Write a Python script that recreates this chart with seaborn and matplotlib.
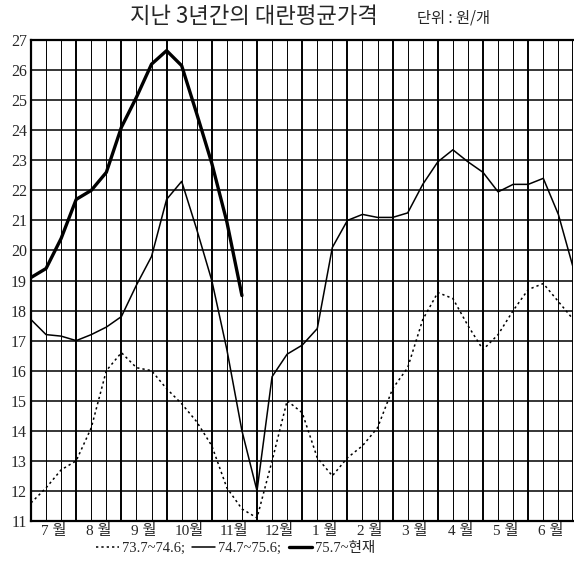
import matplotlib
matplotlib.use("Agg")
import matplotlib.pyplot as plt
import seaborn as sns

# dekads (10-day periods) from July to June, 3 per month
DEKADS = list(range(37))
MONTH_LABELS = ["7 월", "8 월", "9 월", "10월", "11월", "12월",
                "1 월", "2 월", "3 월", "4 월", "5 월", "6 월"]
Y_TICKS = list(range(11, 28))

PRICE_7374 = [11.6, 12.1, 12.7, 13.0, 14.1, 16.0, 16.6, 16.1, 16.0, 15.4,
              14.9, 14.3, 13.5, 12.1, 11.4, 11.1, 13.0, 15.0, 14.6, 13.1,
              12.5, 13.1, 13.5, 14.1, 15.4, 16.1, 17.7, 18.6, 18.4, 17.5,
              16.7, 17.2, 18.0, 18.7, 18.9, 18.3, 17.7]
PRICE_7475 = [17.7, 17.2, 17.15, 17.0, 17.2, 17.45, 17.8, 18.85, 19.8, 21.7,
              22.3, 20.7, 19.0, 16.7, 14.0, 12.0, 15.8, 16.55, 16.85, 17.4,
              20.1, 21.0, 21.2, 21.1, 21.1, 21.25, 22.2, 22.95, 23.35, 22.95,
              22.6, 21.95, 22.2, 22.2, 22.4, 21.2, 19.4]
PRICE_7576 = [19.1, 19.4, 20.4, 21.7, 22.0, 22.6, 24.1, 25.1, 26.2, 26.65,
              26.15, 24.55, 22.9, 20.95, 18.5]


def main() -> None:
    sns.set_theme(style="white")
    plt.rcParams["font.family"] = ["Liberation Serif", "Noto Sans CJK KR"]

    fig, ax = plt.subplots(figsize=(5.74, 5.65), dpi=100)
    fig.subplots_adjust(left=0.054, right=0.999, bottom=0.078, top=0.929)

    sns.lineplot(x=DEKADS, y=PRICE_7374, ax=ax, color="black", lw=1.1,
                 linestyle=(0, (1.5, 2.0)), label="73.7~74.6;")
    sns.lineplot(x=DEKADS, y=PRICE_7475, ax=ax, color="black", lw=1.1,
                 label="74.7~75.6;")
    sns.lineplot(x=DEKADS[:len(PRICE_7576)], y=PRICE_7576, ax=ax,
                 color="black", lw=2.4, label="75.7~현재")

    ax.set_xlim(0, 36)
    ax.set_ylim(11, 27)
    ax.set_xticks(DEKADS)
    ax.set_xticklabels([])
    ax.set_xticks([1.5 + 3 * k for k in range(12)], minor=True)
    ax.set_xticklabels(MONTH_LABELS, minor=True, fontsize=11)
    ax.set_yticks(Y_TICKS)
    ax.set_yticklabels([str(v) for v in Y_TICKS], fontsize=11.5)
    ax.tick_params(axis="x", which="both", length=0, pad=2)
    ax.tick_params(axis="y", length=0, pad=3)
    ax.set_axisbelow(True)
    ax.grid(True, which="major", axis="x", color="black", lw=0.7)
    ax.grid(True, which="major", axis="y", color="black", lw=1.1)
    for i, gl in enumerate(ax.xaxis.get_gridlines()):
        if i % 3 == 0:
            gl.set_linewidth(1.4)

    for side in ["left", "top", "bottom"]:
        ax.spines[side].set_color("black")
        ax.spines[side].set_linewidth(1.6)
    ax.spines["right"].set_visible(False)
    ax.set_xlabel("")
    ax.set_ylabel("")

    ax.get_legend().remove()
    handles, labels = ax.get_legend_handles_labels()
    fig.legend(handles, labels, loc="center", bbox_to_anchor=(0.41, 0.03),
               ncol=3, frameon=False, fontsize=10.5, handlelength=1.6,
               handletextpad=0.2, columnspacing=0.5)

    fig.text(0.443, 0.971, "지난 3년간의 대란평균가격", ha="center", va="center",
             fontsize=16, fontweight="medium", family=["Noto Sans CJK KR"])
    fig.text(0.79, 0.968, "단위 : 원/개", ha="center", va="center",
             fontsize=11, fontweight="medium", family=["Noto Sans CJK KR"])

    fig.savefig("out.png", dpi=100, facecolor="white")
    plt.close(fig)


if __name__ == "__main__":
    main()
